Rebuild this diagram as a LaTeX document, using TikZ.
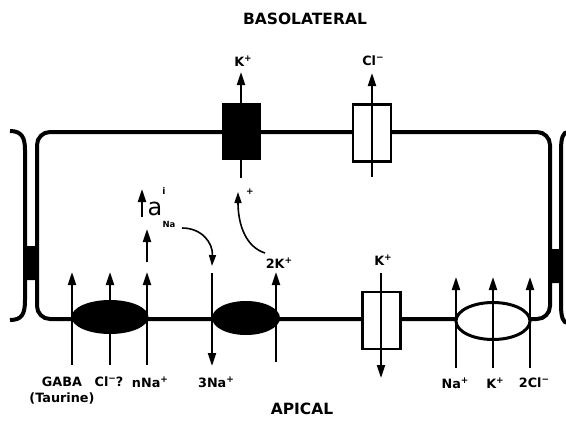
\documentclass[tikz,border=0pt]{standalone}
\usepackage{fontspec}
\setmainfont{DejaVu Sans}
\usetikzlibrary{shapes.geometric,arrows.meta}
\newcommand\ionsup[1]{\raisebox{0.4em}{\fontsize{9}{10}\selectfont #1}}
\tikzset{
  memb/.style={line width=4pt},
  arr/.style={line width=2pt,-{Triangle[length=13pt,width=8pt]}},
  lab/.style={font=\bfseries\fontsize{12.8}{15}\selectfont,inner sep=0pt},
  title/.style={font=\bfseries\fontsize{15.5}{18}\selectfont,inner sep=0pt},
  blackell/.style={ellipse,fill=black,inner sep=0pt},
  openell/.style={ellipse,draw,line width=3pt,fill=white,inner sep=0pt},
  openbox/.style={rectangle,draw,line width=2.5pt,fill=white,inner sep=0pt,minimum width=38pt,minimum height=57pt},
  blackbox/.style={rectangle,fill=black,inner sep=0pt,minimum width=39pt,minimum height=57pt},
  curvarr/.style={line width=1.6pt,-{Triangle[length=11pt,width=7pt]}},
}
\begin{document}
\begin{tikzpicture}[x=1pt,y=-1pt]
\useasboundingbox (0,0) rectangle (566,421);
% cell outline
\draw[memb,rounded corners=13pt] (37,132) rectangle (550,319);
% neighbouring cells
\draw[memb] (10,131) .. controls (22,131) and (25,138) .. (25,150) -- (25,300) .. controls (25,314) and (22,320) .. (10,320);
\draw[memb] (568,132) .. controls (563,132) and (561,138) .. (561,150) -- (561,305) .. controls (561,317) and (563,323) .. (568,323);
% junction blobs
\fill[rounded corners=3pt] (24,246) rectangle (38,280);
\fill[rounded corners=3pt] (549,249) rectangle (562,283);

% basolateral transporters
\coordinate (kb0) at (241,178);
\coordinate (kb1) at (241,72);
\draw[arr] (kb0) -- (kb1);
\node[blackbox] (pump) at (241.5,131.5) {};
\node[openbox] (clch) at (372,133) {};
\coordinate (cb0) at (372,177);
\coordinate (cb1) at (372,73);
\draw[arr] (cb0) -- (cb1);
\node[lab] (kbl) at (243,61) {K\ionsup{+}};
\node[lab] (cbl) at (373,61) {Cl\ionsup{−}};

% apical left cotransporter
\node[blackell,minimum width=77pt,minimum height=34pt] (e1) at (110,317) {};
\draw[arr] (72,365) -- (72,272);
\draw[arr] (110,365) -- (110,272);
\draw[arr] (147,365) -- (147,272);
\draw[arr] (147,262) -- (147,229);
% Na-K pump
\node[blackell,minimum width=68pt,minimum height=34pt] (e2) at (246,318) {};
\draw[arr] (212,273) -- (212,366);
\draw[arr] (276,362) -- (276,272);
% apical K channel
\node[openbox] (kch) at (381.5,320.5) {};
\draw[arr] (381,273) -- (381,378);
% NKCC
\node[openell,minimum width=74pt,minimum height=37pt] (e3) at (493,321) {};
\draw[arr] (456,368) -- (456,277);
\draw[arr] (493,368) -- (493,277);
\draw[arr] (530,368) -- (530,277);

% intracellular Na activity
\draw[arr] (142,217) -- (142,189);
\node[inner sep=0pt,anchor=base,font=\fontsize{24}{26}\selectfont] (a) at (155,215) {a};
\node[inner sep=0pt,font=\bfseries\fontsize{9}{11}\selectfont] (ai) at (164,191) {i};
\node[inner sep=0pt,font=\bfseries\fontsize{8.5}{10}\selectfont] (ana) at (169,224) {Na};
\coordinate (c1s) at (182,228);
\coordinate (c1e) at (212,266);
\draw[curvarr] (c1s) .. controls (202,228) and (213,243) .. (c1e);
\coordinate (c2s) at (265,253);
\coordinate (c2e) at (238,192);
\draw[curvarr] (c2s) .. controls (246,247) and (238,225) .. (c2e);
\node[inner sep=0pt,font=\bfseries\fontsize{9}{10}\selectfont] (plus) at (250,192) {+};

% labels
\node[lab] (l1) at (62,382) {GABA};
\node[lab] (l1b) at (62,398) {(Taurine)};
\node[lab] (l2) at (109,382) {Cl\ionsup{−}?};
\node[lab] (l3) at (150,382) {nNa\ionsup{+}};
\node[lab] (l4) at (216,382) {3Na\ionsup{+}};
\node[lab] (l5) at (279,263) {2K\ionsup{+}};
\node[lab] (l6) at (383,260) {K\ionsup{+}};
\node[lab] (l7) at (455,383) {Na\ionsup{+}};
\node[lab] (l8) at (495,383) {K\ionsup{+}};
\node[lab] (l9) at (534,383) {2Cl\ionsup{−}};
\node[title] (t1) at (305,18.5) {BASOLATERAL};
\node[title] (t2) at (302,409) {APICAL};
\end{tikzpicture}
\end{document}
